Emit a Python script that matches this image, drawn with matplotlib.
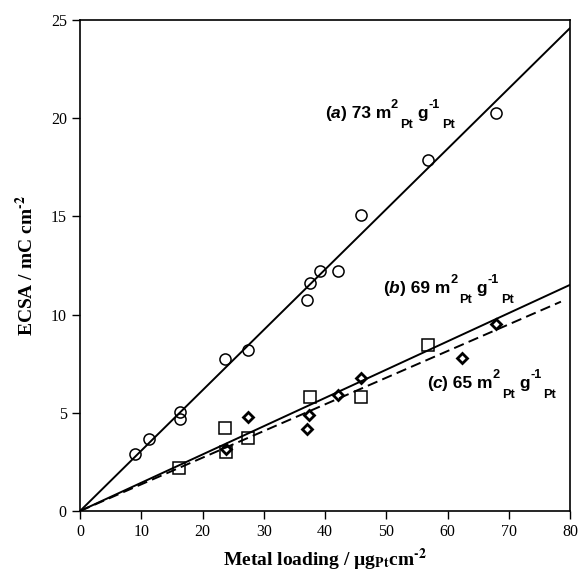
import matplotlib
matplotlib.use('Agg')
import matplotlib.pyplot as plt
from matplotlib.transforms import IdentityTransform
import numpy as np

plt.rcParams['font.family'] = 'Liberation Serif'
plt.rcParams['lines.scale_dashes'] = False

# (a) circles
load_a = [9.0, 11.3, 16.3, 16.3, 23.6, 27.4, 37.1, 37.55, 39.1, 42.1, 45.9, 56.8, 67.9]
ecsa_a = [2.90, 3.65, 4.67, 5.02, 7.72, 8.18, 10.73, 11.63, 12.22, 12.24, 15.1, 17.87, 20.28]
# (b) squares
load_b = [16.2, 23.6, 23.8, 27.4, 37.55, 45.9, 56.8]
ecsa_b = [2.17, 4.21, 2.99, 3.73, 5.82, 5.82, 8.45]
# (c) diamonds
load_c = [23.8, 27.4, 37.1, 37.45, 42.1, 45.9, 62.4, 67.9]
ecsa_c = [3.16, 4.77, 4.18, 4.89, 5.90, 6.79, 7.77, 9.50]

# fitted slopes (mC / ug) and specific areas
slope_a = 0.3075
slope_b = 0.1440
slope_c = 0.1358
xmax_a = 80
xmax_b = 80
xmax_c = 78.5
area_a = 73
area_b = 69
area_c = 65


def fit_label(fig, ax, x, y, tag, area, size=12.5, small=9.2):
    # writes "(tag) area m2Pt g-1Pt" piece by piece, starting at data point (x, y)
    r = fig.canvas.get_renderer()
    px, py = ax.transData.transform((x, y))
    pieces = [('(', 0, 'normal'), (tag, 0, 'italic'), (') %d m' % area, 0, 'normal'),
              ('2', 1, 'normal'), ('Pt', -1, 'normal'), (' g', 0, 'normal'),
              ('-1', 1, 'normal'), ('Pt', -1, 'normal')]
    for s, pos, style in pieces:
        fs = size if pos == 0 else small
        t = fig.text(px, py + 10 * pos, s, transform=IdentityTransform(), fontsize=fs,
                     family='Liberation Sans', weight='bold', style=style, va='baseline')
        px += t.get_window_extent(r).width
        if pos == 1:
            px += 2


fig = plt.figure(figsize=(5.8, 5.83), dpi=100)
ax = fig.add_axes([0.138, 0.1235, 0.845, 0.842])

xa = np.array([0, xmax_a])
xb = np.array([0, xmax_b])
xc = np.array([0, xmax_c])
ax.plot(xa, slope_a * xa, 'k-', lw=1.4)
ax.plot(xb, slope_b * xb, 'k-', lw=1.4)
ax.plot(xc, slope_c * xc, color='k', lw=1.4, linestyle=(0, (7.5, 3.8)))

ax.plot(load_a, ecsa_a, 'o', ms=8, mfc='none', mec='k', mew=1.1)
ax.plot(load_b, ecsa_b, 's', ms=8.6, mfc='none', mec='k', mew=1.1)
ax.plot(load_c, ecsa_c, 'D', ms=5.6, mfc='none', mec='k', mew=2.0)

ax.set_xlim(0, 80)
ax.set_ylim(0, 25)
ax.set_xticks(np.arange(0, 81, 10))
ax.set_yticks(np.arange(0, 26, 5))
ax.tick_params(direction='out', length=6, width=1, labelsize=11.5, top=False, right=False)
for sp in ax.spines.values():
    sp.set_linewidth(1.2)

ax.set_xlabel('Metal loading / µg$_{\\mathbf{Pt}}$cm$^{\\mathbf{\u20102}}$', fontsize=14,
              fontweight='bold', math_fontfamily='stix', labelpad=5)
ax.set_ylabel('ECSA / mC cm$^{\\mathbf{\u20102}}$', fontsize=14, fontweight='bold',
              math_fontfamily='stix', labelpad=10)

fit_label(fig, ax, 40.0, 20.0, 'a', area_a)
fit_label(fig, ax, 49.5, 11.08, 'b', area_b)
fit_label(fig, ax, 56.6, 6.25, 'c', area_c)

plt.savefig('out.png', dpi=100)
